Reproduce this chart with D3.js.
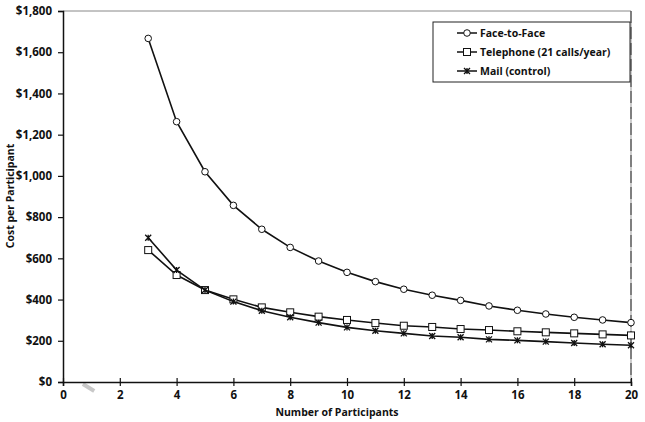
<!DOCTYPE html>
<html lang="en">
<head>
<meta charset="UTF-8">
<title>Cost per Participant</title>
<style>
  body { margin: 0; background: #fff; }
  text { font-family: "Open Sans", "DejaVu Sans", sans-serif; font-weight: bold; fill: #111; }
</style>
</head>
<body>
<svg id="svg" width="645" height="422"></svg>
<script src="https://d3js.org/d3.v7.min.js"></script>
<script>
  // data
  const participants = [3, 4, 5, 6, 7, 8, 9, 10, 11, 12, 13, 14, 15, 16, 17, 18, 19, 20]
  const faceToFace = [1667, 1263, 1020, 857, 741, 653, 587, 532, 487, 450, 421, 396, 369, 348, 330, 314, 301, 288]
  const telephone = [640, 519, 446, 401, 362, 338, 317, 301, 286, 273, 267, 257, 252, 246, 241, 236, 231, 226]
  const mail = [700, 543, 446, 390, 346, 314, 288, 265, 249, 236, 223, 217, 207, 202, 196, 189, 183, 178]
  const seriesNames = ['Face-to-Face', 'Telephone (21 calls/year)', 'Mail (control)']
  const xTicks = [0, 2, 4, 6, 8, 10, 12, 14, 16, 18, 20]
  const yTicks = [0, 200, 400, 600, 800, 1000, 1200, 1400, 1600, 1800]

  const margin = { top: 11, right: 14, bottom: 40, left: 63 }
  const width = 645 - margin.left - margin.right
  const height = 422 - margin.top - margin.bottom

  const svg = d3.select('#svg')
  const g = svg.append('g').attr('transform', `translate(${margin.left},${margin.top})`)

  const x = d3.scaleLinear().domain([0, 20]).range([0, width])
  const y = d3.scaleLinear().domain([0, 1800]).range([height, 0])

  // plot frame: top grey line, right grey line with darker dashes
  g.append('line').attr('x1', 0).attr('x2', width).attr('y1', 0).attr('y2', 0)
    .attr('stroke', '#888').attr('stroke-width', 1)
  g.append('line').attr('x1', width).attr('x2', width).attr('y1', 0).attr('y2', height)
    .attr('stroke', '#999').attr('stroke-width', 1)
  g.append('line').attr('x1', width).attr('x2', width).attr('y1', 0).attr('y2', height)
    .attr('stroke', '#333').attr('stroke-width', 1).attr('stroke-dasharray', '12,4')

  // stray grey mark near origin
  g.append('line').attr('x1', x(0.7)).attr('x2', x(1.1)).attr('y1', height + 2).attr('y2', height + 9)
    .attr('stroke', '#c8c8c8').attr('stroke-width', 4)

  // axes
  const yAxis = g.append('g')
    .call(d3.axisLeft(y).tickValues(yTicks).tickSize(5).tickFormat(d => '$' + d3.format(',')(d)))
  yAxis.select('.domain').attr('stroke', '#111').attr('stroke-width', 1.5)
  yAxis.selectAll('.tick line').attr('stroke', '#111').attr('stroke-width', 1.2)
  yAxis.selectAll('text').attr('font-size', 11.5).attr('dx', -3)

  const xAxis = g.append('g').attr('transform', `translate(0,${height})`)
    .call(d3.axisBottom(x).tickValues(xTicks).tickSize(4))
  xAxis.select('.domain').attr('stroke', '#111').attr('stroke-width', 1.5)
  xAxis.selectAll('.tick line').attr('stroke', '#111').attr('stroke-width', 1.2).attr('y1', -4)
  xAxis.selectAll('text').attr('font-size', 11.5).attr('dy', '0.85em')

  svg.append('text').attr('x', margin.left + width / 2 - 10).attr('y', 416)
    .attr('text-anchor', 'middle').attr('font-size', 10.5).text('Number of Participants')
  svg.append('text').attr('transform', `translate(14,196) rotate(-90)`)
    .attr('text-anchor', 'middle').attr('font-size', 10.5).text('Cost per Participant')

  const line = d3.line().x((d, i) => x(participants[i])).y(d => y(d))
  const allSeries = [faceToFace, telephone, mail]
  const markers = ['circle', 'square', 'star']

  function drawMarker(sel, type, cx, cy) {
    if (type === 'circle') {
      sel.append('circle').attr('cx', cx).attr('cy', cy).attr('r', 3.3)
        .attr('fill', '#fff').attr('stroke', '#111').attr('stroke-width', 1)
    } else if (type === 'square') {
      sel.append('rect').attr('x', cx - 3.5).attr('y', cy - 3.5).attr('width', 7).attr('height', 7)
        .attr('fill', '#fff').attr('stroke', '#111').attr('stroke-width', 1)
    } else {
      const s = 3
      sel.append('path')
        .attr('d', `M${cx - s},${cy - s}L${cx + s},${cy + s}M${cx - s},${cy + s}L${cx + s},${cy - s}M${cx},${cy - s}L${cx},${cy + s}`)
        .attr('stroke', '#111').attr('stroke-width', 1.3)
    }
  }

  allSeries.forEach((vals, k) => {
    g.append('path').datum(vals).attr('d', line)
      .attr('fill', 'none').attr('stroke', '#111').attr('stroke-width', 1.6)
    const mg = g.append('g')
    vals.forEach((v, i) => drawMarker(mg, markers[k], x(participants[i]), y(v)))
  })

  // legend
  const lg = svg.append('g').attr('transform', 'translate(433,22)')
  lg.append('rect').attr('width', 197).attr('height', 60)
    .attr('fill', '#fff').attr('stroke', '#222').attr('stroke-width', 1)
  seriesNames.forEach((name, k) => {
    const ly = 11 + k * 19
    lg.append('line').attr('x1', 24).attr('x2', 44).attr('y1', ly).attr('y2', ly)
      .attr('stroke', '#111').attr('stroke-width', 1.5)
    drawMarker(lg, markers[k], 34, ly)
    lg.append('text').attr('x', 47).attr('y', ly + 3.5).attr('font-size', 10.5).text(name)
  })
</script>
</body>
</html>
